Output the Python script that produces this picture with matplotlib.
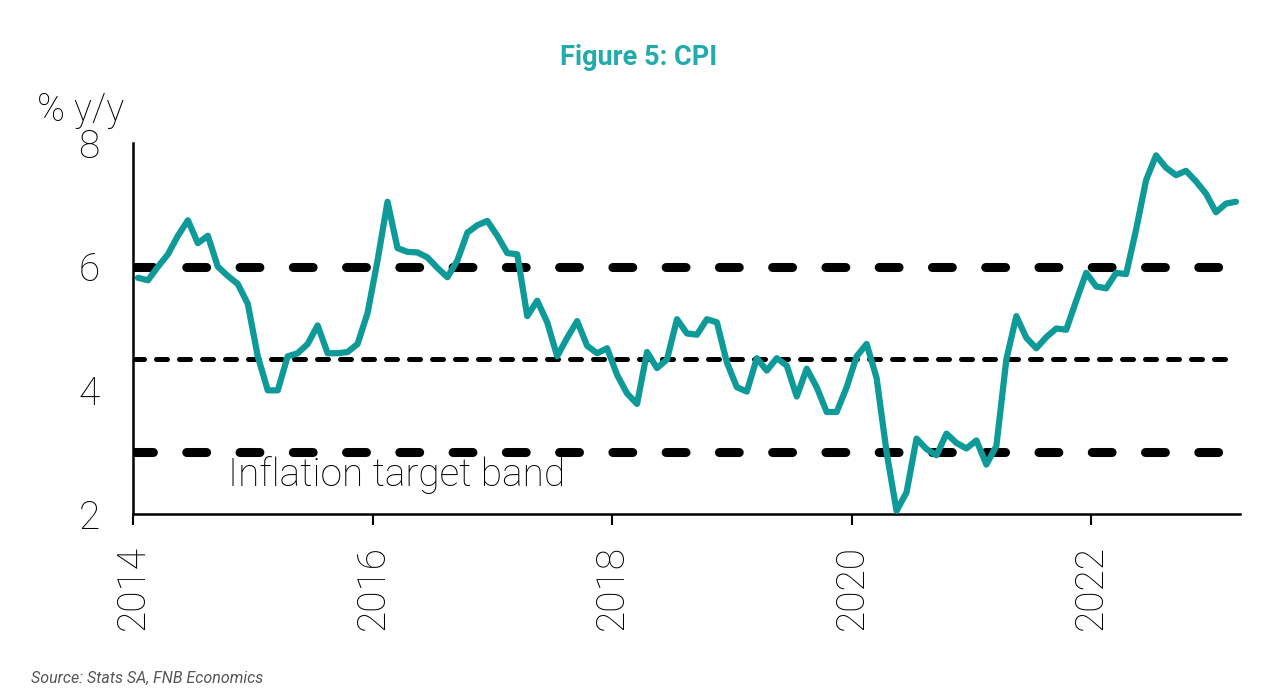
import matplotlib
matplotlib.use("Agg")
import matplotlib.pyplot as plt
import numpy as np

# CPI % y/y, monthly from Jan 2014 to Mar 2023
cpi_2014 = [5.82, 5.78, 6.0, 6.2, 6.5, 6.75, 6.38, 6.5, 6.0, 5.85, 5.72, 5.4]
cpi_2015 = [4.55, 4.0, 4.0, 4.55, 4.6, 4.75, 5.05, 4.6, 4.6, 4.62, 4.75, 5.25]
cpi_2016 = [6.1, 7.05, 6.3, 6.24, 6.23, 6.15, 5.98, 5.83, 6.1, 6.55, 6.67, 6.74]
cpi_2017 = [6.5, 6.22, 6.2, 5.2, 5.45, 5.1, 4.55, 4.85, 5.12, 4.72, 4.6, 4.68]
cpi_2018 = [4.25, 3.95, 3.78, 4.62, 4.36, 4.5, 5.15, 4.92, 4.9, 5.15, 5.1, 4.45]
cpi_2019 = [4.05, 3.98, 4.52, 4.32, 4.52, 4.4, 3.9, 4.35, 4.05, 3.65, 3.65, 4.05]
cpi_2020 = [4.55, 4.75, 4.2, 3.0, 2.05, 2.35, 3.22, 3.05, 2.95, 3.3, 3.15, 3.06]
cpi_2021 = [3.19, 2.8, 3.1, 4.5, 5.2, 4.85, 4.68, 4.86, 5.0, 4.98, 5.45, 5.9]
cpi_2022 = [5.68, 5.65, 5.9, 5.88, 6.6, 7.4, 7.8, 7.6, 7.48, 7.55, 7.38, 7.18]
cpi_2023 = [6.88, 7.02, 7.05]

cpi = (cpi_2014 + cpi_2015 + cpi_2016 + cpi_2017 + cpi_2018 + cpi_2019
       + cpi_2020 + cpi_2021 + cpi_2022 + cpi_2023)
start_year = 2014

band_upper = 6
band_mid = 4.5
band_lower = 3

x_ticks = [2014, 2016, 2018, 2020, 2022]
y_ticks = [2, 4, 6, 8]

teal = "#0e9a98"
title_teal = "#22abab"

plt.rcParams["font.family"] = ["Roboto", "DejaVu Sans"]
plt.rcParams["font.weight"] = "light"

fig = plt.figure(figsize=(12.8, 7), dpi=100)
ax = fig.add_axes([0.1039, 0.2657, 0.865, 0.53])

# mid-month date positions
dates = start_year + (np.arange(len(cpi)) + 0.5) / 12

# target band
band_kw = dict(color="black", dash_capstyle="round", zorder=2)
ax.plot([2014, 2023.1], [band_upper] * 2, lw=6.5, dashes=(2.2, 3.7), **band_kw)
ax.plot([2014, 2023.1], [band_lower] * 2, lw=6.5, dashes=(2.2, 3.7), **band_kw)
ax.plot([2014, 2023.22], [band_mid] * 2, lw=3.6, dashes=(2.2, 2.4), **band_kw)

ax.plot(dates, cpi, color=teal, lw=4.5, solid_joinstyle="round",
        solid_capstyle="round", zorder=3)

ax.text(2014.79, 2.63, "Inflation target band", fontsize=28,
        va="center", ha="left")

ax.set_xlim(2014, 2023.244)
ax.set_ylim(2, 8)
ax.set_xticks(x_ticks)
ax.set_xticklabels([str(t) for t in x_ticks], rotation=90, fontsize=28)
ax.set_yticks(y_ticks)
ax.set_yticklabels([str(t) for t in y_ticks], fontsize=28)
ax.tick_params(axis="x", length=8, width=1.5, pad=14, direction="out")
ax.tick_params(axis="y", length=0, pad=24)

for side in ["top", "right"]:
    ax.spines[side].set_visible(False)
for side in ["left", "bottom"]:
    ax.spines[side].set_linewidth(1.8)

fig.text(0.499, 0.918, "Figure 5: CPI", color=title_teal, fontsize=19.5,
         fontweight="bold", ha="center", va="center")
fig.text(0.029, 0.842, "% y/y", fontsize=27, ha="left", va="center")
fig.text(0.024, 0.031, "Source: Stats SA, FNB Economics", fontsize=11.5,
         style="italic", fontweight="normal", color="#555555",
         ha="left", va="center")

fig.savefig("out.png", dpi=100)
